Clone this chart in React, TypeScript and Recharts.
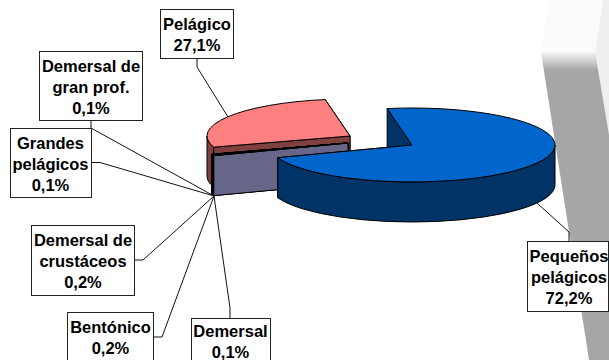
import React from "react";
import { PieChart, Pie } from "recharts";

const W = 609;
const H = 360;

// Data, in the order the slices follow around the pie (counter-clockwise from the Pelágico start edge)
const categories = [
  "Pelágico",
  "Demersal de gran prof.",
  "Grandes pelágicos",
  "Demersal de crustáceos",
  "Bentónico",
  "Demersal",
  "Pequeños pelágicos",
];
const shares = [27.1, 0.1, 0.1, 0.2, 0.2, 0.1, 72.2];
const categoryLines = [
  ["Pelágico"],
  ["Demersal de", "gran prof."],
  ["Grandes", "pelágicos"],
  ["Demersal de", "crustáceos"],
  ["Bentónico"],
  ["Demersal"],
  ["Pequeños", "pelágicos"],
];

// Styles
const topColors = ["#FF8080", "#666688", "#666688", "#666688", "#666688", "#666688", "#0066CC"];
const sideColors = ["#804040", "#666688", "#666688", "#666688", "#666688", "#666688", "#003366"];

// 3D tilt and explosion
const SQUISH = 37 / 143;
const DEPTH = 40;
const explode = [
  [-62, -9],
  [-64, -2],
  [-64, -2],
  [-64, -2],
  [-64, -2],
  [-64, -2],
  [0, 0],
];

// Label boxes: x, y, w, h, text centre x, first baseline
const boxes = [
  { x: 160.5, y: 9.5, w: 73, h: 49, cx: 197, base: 30 },
  { x: 39.5, y: 51.5, w: 103, h: 69, cx: 91, base: 72 },
  { x: 10.5, y: 128.5, w: 81, h: 69, cx: 50.5, base: 149 },
  { x: 31.5, y: 225.5, w: 103, h: 70, cx: 83, base: 246 },
  { x: 67.5, y: 312.5, w: 86, h: 49, cx: 110.5, base: 332.5 },
  { x: 191.5, y: 318.5, w: 79, h: 49, cx: 230.5, base: 336.5 },
  { x: 527.5, y: 241.5, w: 81, h: 70, cx: 569, base: 262 },
];
// Leader lines as polylines from box to slice
const leaders = [
  "197,58 197,67 228,117",
  "91,120 91,128 214,196",
  "91,162.5 100,162.5 214,196",
  "134,260 143,260 214,196",
  "153,337 162,337 214,196",
  "230,318 230,308 214,196",
  "569,241 569,232 537,203",
];

const data = categories.map((name, i) => ({ name, value: shares[i] }));

function rimPoint(cx: number, cy: number, r: number, deg: number) {
  const a = (deg * Math.PI) / 180;
  return [cx + r * Math.cos(a), cy - r * SQUISH * Math.sin(a)];
}

function Slice3D(props: any) {
  const { cx, cy, outerRadius: r, startAngle, endAngle, index } = props;
  const [dx, dy] = explode[index];
  const ox = cx + dx;
  const oy = cy + dy;
  const [sx, sy] = rimPoint(ox, oy, r, startAngle);
  const [ex, ey] = rimPoint(ox, oy, r, endAngle);
  const ry = r * SQUISH;
  const large = Math.abs(endAngle - startAngle) > 180 ? 1 : 0;
  const top = `M${ox},${oy} L${sx},${sy} A${r},${ry} 0 ${large} 0 ${ex},${ey} Z`;
  // Only the front half of the rim (180 to 360 degrees) shows an outer wall
  const lo = Math.max(startAngle, 180);
  const hi = Math.min(endAngle, 360);
  let wall = "";
  if (hi > lo) {
    const [ax, ay] = rimPoint(ox, oy, r, lo);
    const [bx, by] = rimPoint(ox, oy, r, hi);
    wall = `M${ax},${ay} A${r},${ry} 0 0 0 ${bx},${by} L${bx},${by + DEPTH} A${r},${ry} 0 0 1 ${ax},${ay + DEPTH} Z`;
  }
  const face = (px: number, py: number) =>
    `M${ox},${oy} L${px},${py} L${px},${py + DEPTH} L${ox},${oy + DEPTH} Z`;
  const side = sideColors[index];
  const common = { stroke: "#000", strokeWidth: 1, strokeLinejoin: "round" as const };
  return (
    <g>
      <path d={face(sx, sy)} fill={side} {...common} />
      <path d={face(ex, ey)} fill={side} {...common} />
      {wall && <path d={wall} fill={side} {...common} />}
      <path d={top} fill={topColors[index]} {...common} />
    </g>
  );
}

function CalloutLabel(props: any) {
  const { index, value } = props;
  const b = boxes[index];
  const lines = [...categoryLines[index], `${Number(value).toFixed(1).replace(".", ",")}%`];
  return (
    <g>
      <polyline points={leaders[index]} fill="none" stroke="#111" strokeWidth={1} />
      <rect x={b.x} y={b.y} width={b.w} height={b.h} fill="#fff" stroke="#222" strokeWidth={1} />
      {lines.map((t, i) => (
        <text
          key={i}
          x={b.cx}
          y={b.base + i * 21}
          textAnchor="middle"
          fontFamily="'Liberation Sans', Arial, sans-serif"
          fontWeight="bold"
          fontSize={16.5}
          fill="#000"
        >
          {t}
        </text>
      ))}
    </g>
  );
}

function Backdrop() {
  return (
    <svg width={W} height={H} style={{ position: "absolute", left: 0, top: 0 }}>
      <defs>
        <linearGradient id="bandFade" x1="0" y1="52" x2="0" y2="70" gradientUnits="userSpaceOnUse">
          <stop offset="0" stopColor="#f6f6f6" />
          <stop offset="1" stopColor="#a6a6a6" />
        </linearGradient>
      </defs>
      <polygon points="548,0 603,0 595,54 541,54" fill="#fbfbfb" />
      <polygon points="603,0 609,0 609,150 595,54" fill="#efefef" />
      <polygon points="541,52 595,52 609,135 609,360 589,360" fill="url(#bandFade)" />
    </svg>
  );
}

export default function App() {
  return (
    <div style={{ position: "absolute", left: 0, top: 0, width: W, height: H, overflow: "hidden", background: "#fff" }}>
      <Backdrop />
      <div style={{ position: "absolute", left: 0, top: 0 }}>
        <PieChart width={W} height={H} margin={{ top: 0, right: 0, bottom: 0, left: 0 }}>
          <Pie
            data={data}
            dataKey="value"
            nameKey="name"
            cx={412}
            cy={145}
            innerRadius={0}
            outerRadius={143}
            startAngle={100}
            endAngle={460}
            stroke="none"
            isAnimationActive={false}
            shape={Slice3D}
            label={CalloutLabel}
            labelLine={false}
            rootTabIndex={-1}
          />
        </PieChart>
      </div>
    </div>
  );
}
